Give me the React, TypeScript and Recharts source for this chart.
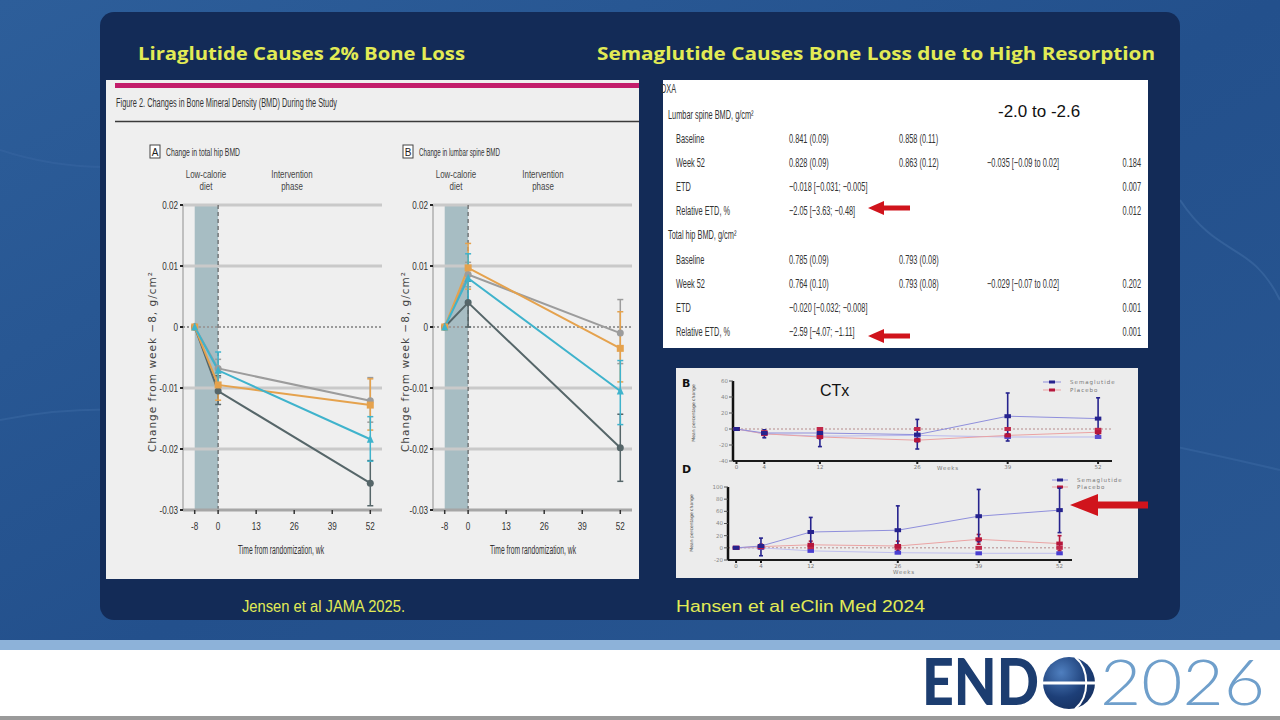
import React from 'react';
import { ComposedChart, Line, XAxis, YAxis, ReferenceLine, ReferenceArea, ErrorBar } from 'recharts';

// ---- Jensen et al (BMD change, g/cm2) ----
const bmdWeeks = [-8, 0, 52];
const bmdTicksX = [-8, 0, 13, 26, 39, 52];
const bmdTicksY = [-0.03, -0.02, -0.01, 0, 0.01, 0.02];

const hipDark = [0, -0.0105, -0.0256];
const hipGray = [0, -0.0068, -0.0121];
const hipOrange = [0, -0.0095, -0.0128];
const hipCyan = [0, -0.0071, -0.0184];
const hipDarkErr = [[0, 0], [0.0022, 0.0025], [0.0037, 0.0037]];
const hipGrayErr = [[0, 0], [0.0015, 0.0015], [0.0035, 0.0038]];
const hipOrangeErr = [[0, 0], [0.0025, 0.002], [0.0041, 0.0043]];
const hipCyanErr = [[0, 0], [0.0027, 0.003], [0.0036, 0.0037]];

const spineDark = [0, 0.004, -0.0198];
const spineGray = [0, 0.0086, -0.001];
const spineOrange = [0, 0.0097, -0.0035];
const spineCyan = [0, 0.008, -0.0105];
const spineDarkErr = [[0, 0], [0.004, 0.0035], [0.0055, 0.0055]];
const spineGrayErr = [[0, 0], [0.002, 0.002], [0.005, 0.0055]];
const spineOrangeErr = [[0, 0], [0.0035, 0.004], [0.0055, 0.006]];
const spineCyanErr = [[0, 0], [0.0037, 0.004], [0.0055, 0.005]];

// ---- Hansen et al (mean percentage change) ----
const pctWeeks = [0, 4, 12, 26, 39, 52];

const ctxSema = [0, -5, -5, -7, 16, 13];
const ctxSemaErr = [[0, 0], [6, 4], [17, 5], [18, 19], [31, 29], [23, 26]];
const ctxPlacebo = [0, -6, -10, -14, -8, -4];
const ctxPlaceboErr = [[0, 0], [2, 2], [2, 2], [2, 2], [2, 2], [2, 2]];
const ctxSema2 = [0, -6, -9, -8, -10, -10];
const ctxPlacebo2 = [0, -4, 0, 0, 0, -1];

const p1npSema = [0, 3, 26, 29, 52, 62];
const p1npSemaErr = [[0, 0], [16, 13], [21, 24], [38, 40], [42, 44], [37, 36]];
const p1npPlacebo = [0, 2, 5, 3, 14, 7];
const p1npPlaceboErr = [[0, 0], [4, 4], [8, 6], [8, 8], [8, 8], [12, 13]];
const p1npSema2 = [0, 0, -5, -8, -9, -9];
const p1npPlacebo2 = [0, 1, 1, 0, 0, 0];

// ---- table ----
const tableLabels = ['DXA', 'Lumbar spine BMD, g/cm²', 'Baseline', 'Week 52', 'ETD', 'Relative ETD, %', 'Total hip BMD, g/cm²', 'Baseline', 'Week 52', 'ETD', 'Relative ETD, %'];
const tableSema = ['', '', '0.841 (0.09)', '0.828 (0.09)', '−0.018 [−0.031; −0.005]', '−2.05 [−3.63; −0.48]', '', '0.785 (0.09)', '0.764 (0.10)', '−0.020 [−0.032; −0.008]', '−2.59 [−4.07; −1.11]'];
const tablePlacebo = ['', '', '0.858 (0.11)', '0.863 (0.12)', '', '', '', '0.793 (0.08)', '0.793 (0.08)', '', ''];
const tableDiff = ['', '', '', '−0.035 [−0.09 to 0.02]', '', '', '', '', '−0.029 [−0.07 to 0.02]', '', ''];
const tableP = ['', '', '', '0.184', '0.007', '0.012', '', '', '0.202', '0.001', '0.001'];
const tableIndent = [0, 0, 1, 1, 1, 1, 0, 1, 1, 1, 1];
const tableRowY = [88, 114, 138, 162, 186, 210, 234, 259, 283, 307, 331];

const SANS = '"Liberation Sans", Arial, sans-serif';
const YELLOW = '#e2eb55';

// condensed-looking text: regular sans squeezed horizontally
const NText = ({ x, y, sx = 0.7, size = 10.5, fill = '#333', anchor = 'start', children }: any) => (
  <text transform={`translate(${x},${y}) scale(${sx},1)`} fontFamily={SANS} fontSize={size} fill={fill} textAnchor={anchor}>
    {children}
  </text>
);

const narrowTick = (fmt: (v: number) => string, anchor: string, dy: number) => (props: any) => {
  const { x, y, payload, index } = props;
  return (
    <text key={`t-${index}`} transform={`translate(${x},${y + dy}) scale(0.74,1)`} fontFamily={SANS} fontSize={11} fill="#333" textAnchor={anchor}>
      {fmt(payload.value)}
    </text>
  );
};

const marker = (shape: string, color: string, size: number) => (props: any) => {
  const { cx, cy, index } = props;
  const k = `${shape}-${index}`;
  if (cx == null || cy == null) return <g key={k} />;
  if (shape === 'square') return <rect key={k} x={cx - size} y={cy - size} width={size * 2} height={size * 2} fill={color} />;
  if (shape === 'triangle')
    return <polygon key={k} points={`${cx},${cy - size - 1} ${cx - size},${cy + size} ${cx + size},${cy + size}`} fill={color} />;
  if (shape === 'bar') return <rect key={k} x={cx - size * 1.3} y={cy - size * 0.8} width={size * 2.6} height={size * 1.6} fill={color} />;
  return <circle key={k} cx={cx} cy={cy} r={size} fill={color} />;
};

type Series = { key: string; values: number[]; err?: number[][]; color: string; shape: string; mcolor?: string; size?: number };

const buildData = (xs: number[], series: Series[]) =>
  xs.map((w, i) => {
    const row: any = { week: w };
    series.forEach((s) => {
      row[s.key] = s.values[i];
      if (s.err) row[s.key + 'Err'] = s.err[i];
    });
    return row;
  });

const hipSeries: Series[] = [
  { key: 'gray', values: hipGray, err: hipGrayErr, color: '#9c9c9c', shape: 'circle' },
  { key: 'dark', values: hipDark, err: hipDarkErr, color: '#566669', shape: 'circle' },
  { key: 'orange', values: hipOrange, err: hipOrangeErr, color: '#e5a24d', shape: 'square' },
  { key: 'cyan', values: hipCyan, err: hipCyanErr, color: '#3fb3cc', shape: 'triangle' },
];
const spineSeries: Series[] = [
  { key: 'gray', values: spineGray, err: spineGrayErr, color: '#9c9c9c', shape: 'circle' },
  { key: 'dark', values: spineDark, err: spineDarkErr, color: '#566669', shape: 'circle' },
  { key: 'orange', values: spineOrange, err: spineOrangeErr, color: '#e5a24d', shape: 'square' },
  { key: 'cyan', values: spineCyan, err: spineCyanErr, color: '#3fb3cc', shape: 'triangle' },
];

const fmtY = (v: number) => (Math.abs(v) < 1e-9 ? '0' : v.toFixed(2));
const fmtX = (v: number) => String(v);

const BmdChart = ({ left, series }: { left: number; series: Series[] }) => {
  const data = buildData(bmdWeeks, series);
  return (
    <div style={{ position: 'absolute', left, top: 195, width: 260, height: 345 }}>
      <ComposedChart width={260} height={345} data={data} margin={{ top: 10, right: 8, left: 0, bottom: 0 }}>
        <XAxis
          type="number"
          dataKey="week"
          domain={[-12, 56]}
          ticks={bmdTicksX}
          allowDataOverflow
          axisLine={{ stroke: '#a6a6a6', strokeWidth: 3 }}
          tickLine={{ stroke: '#333', strokeWidth: 1.5 }}
          tickSize={4}
          height={30}
          tick={narrowTick(fmtX, 'middle', 14)}
        />
        <YAxis
          type="number"
          domain={[-0.03, 0.02]}
          ticks={bmdTicksY}
          allowDataOverflow
          width={53}
          axisLine={{ stroke: '#8f8f8f', strokeWidth: 1 }}
          tickLine={{ stroke: '#222', strokeWidth: 2 }}
          tickSize={3}
          tick={narrowTick(fmtY, 'end', 4)}
        />
        {[0.02, 0.01, -0.01, -0.02].map((y) => (
          <ReferenceLine key={y} y={y} stroke="#c9c9c9" strokeWidth={3} />
        ))}
        <ReferenceArea x1={-8} x2={0} y1={-0.03} y2={0.02} fill="#a7bdc3" fillOpacity={1} stroke="none" />
        <ReferenceLine y={0} stroke="#9a9a9a" strokeWidth={2} strokeDasharray="2 2" />
        <ReferenceLine x={0} stroke="#4a4a4a" strokeWidth={1} strokeDasharray="4 3" />
        {series.map((s) => (
          <Line
            key={s.key}
            type="linear"
            dataKey={s.key}
            stroke={s.color}
            strokeWidth={2}
            dot={marker(s.shape, s.color, 3.5)}
            isAnimationActive={false}
          >
            <ErrorBar dataKey={s.key + 'Err'} width={3} stroke={s.color} strokeWidth={1.5} direction="y" />
          </Line>
        ))}
      </ComposedChart>
    </div>
  );
};

const ctxSeries: Series[] = [
  { key: 'sema2', values: ctxSema2, color: '#b9b9ee', shape: 'bar', mcolor: '#5a4fd0', size: 2.5 },
  { key: 'placebo2', values: ctxPlacebo2, color: 'transparent', shape: 'bar', mcolor: '#c0284a', size: 2.5 },
  { key: 'placebo', values: ctxPlacebo, err: ctxPlaceboErr, color: '#eba3a3', shape: 'bar', mcolor: '#b5163c', size: 2.5 },
  { key: 'sema', values: ctxSema, err: ctxSemaErr, color: '#8f8fdc', shape: 'bar', mcolor: '#26238e', size: 2.5 },
];
const p1npSeries: Series[] = [
  { key: 'sema2', values: p1npSema2, color: '#c0c0ef', shape: 'bar', mcolor: '#4a3fd0', size: 2.5 },
  { key: 'placebo2', values: p1npPlacebo2, color: 'transparent', shape: 'bar', mcolor: '#c0284a', size: 2.5 },
  { key: 'placebo', values: p1npPlacebo, err: p1npPlaceboErr, color: '#eba3a3', shape: 'bar', mcolor: '#b5163c', size: 2.5 },
  { key: 'sema', values: p1npSema, err: p1npSemaErr, color: '#8f8fdc', shape: 'bar', mcolor: '#26238e', size: 2.5 },
];

const PctChart = (p: { left: number; top: number; width: number; height: number; xDomain: number[]; yDomain: number[]; yTicks: number[]; series: Series[] }) => {
  const data = buildData(pctWeeks, p.series);
  return (
    <div style={{ position: 'absolute', left: p.left, top: p.top, width: p.width, height: p.height }}>
      <ComposedChart width={p.width} height={p.height} data={data} margin={{ top: 10, right: 8, left: 0, bottom: 0 }}>
        <XAxis
          type="number"
          dataKey="week"
          domain={p.xDomain}
          ticks={pctWeeks}
          allowDataOverflow
          axisLine={{ stroke: '#1a1a1a', strokeWidth: 2 }}
          tickLine={{ stroke: '#1a1a1a', strokeWidth: 2 }}
          tickSize={3}
          tickMargin={1}
          height={12}
          tick={{ fontSize: 5.5, fill: '#777', fontFamily: 'DejaVu Sans' }}
        />
        <YAxis
          type="number"
          domain={p.yDomain}
          ticks={p.yTicks}
          allowDataOverflow
          width={33}
          axisLine={{ stroke: '#111', strokeWidth: 2.5 }}
          tickLine={{ stroke: '#555', strokeWidth: 1 }}
          tickSize={4}
          tickMargin={1}
          tick={{ fontSize: 5.5, fill: '#888', fontFamily: 'DejaVu Sans' }}
        />
        <ReferenceLine y={0} stroke="#b58a8a" strokeWidth={1} strokeDasharray="2 2" />
        {p.series.map((s) => (
          <Line
            key={s.key}
            type="linear"
            dataKey={s.key}
            stroke={s.color}
            strokeWidth={1}
            dot={marker(s.shape, s.mcolor || s.color, s.size || 2.5)}
            isAnimationActive={false}
          >
            {s.err ? <ErrorBar dataKey={s.key + 'Err'} width={2} stroke={s.mcolor} strokeWidth={1.6} direction="y" /> : null}
          </Line>
        ))}
      </ComposedChart>
    </div>
  );
};

const Arrow = ({ x, y, len, head, hh, sh }: { x: number; y: number; len: number; head: number; hh: number; sh: number }) => (
  <polygon
    points={`${x},${y} ${x + head},${y - hh} ${x + head},${y - sh} ${x + len},${y - sh} ${x + len},${y + sh} ${x + head},${y + sh} ${x + head},${y + hh}`}
    fill="#d0141c"
  />
);

const App: React.FC = () => {
  return (
    <div style={{ position: 'absolute', left: 0, top: 0, width: 1280, height: 720, overflow: 'hidden', fontFamily: SANS }}>
      <svg width={1280} height={720} style={{ position: 'absolute', left: 0, top: 0 }}>
        <defs>
          <linearGradient id="bg" x1="0" y1="0" x2="1" y2="1">
            <stop offset="0" stopColor="#2d5e9a" />
            <stop offset="0.5" stopColor="#23508c" />
            <stop offset="1" stopColor="#2a5893" />
          </linearGradient>
          <radialGradient id="globe" cx="0.35" cy="0.3" r="0.8">
            <stop offset="0" stopColor="#4f7fbf" />
            <stop offset="0.6" stopColor="#1d3f78" />
            <stop offset="1" stopColor="#152f5e" />
          </radialGradient>
        </defs>
        <rect x={0} y={0} width={1280} height={720} fill="url(#bg)" />
        <path d="M0,420 C200,380 300,470 520,430 S900,380 1280,470" stroke="#3c6aa4" strokeWidth={2} fill="none" opacity={0.5} />
        <path d="M0,150 C150,200 250,120 420,160" stroke="#3c6aa4" strokeWidth={2} fill="none" opacity={0.4} />
        <path d="M1180,200 C1220,260 1250,240 1280,300" stroke="#4a78b0" strokeWidth={2} fill="none" opacity={0.4} />
        <rect x={100} y={12} width={1080} height={608} rx={14} fill="#132b57" />

        {/* bottom band */}
        <rect x={0} y={650} width={1280} height={70} fill="#ffffff" />
        <rect x={0} y={640} width={1280} height={10} fill="#8db2d9" />
        <rect x={0} y={716} width={1280} height={4} fill="#9a9a9a" />

        {/* titles */}
        <text x={138} y={60} fontFamily="Open Sans" fontWeight={700} fontSize={18.5} fill={YELLOW} textLength={327} lengthAdjust="spacingAndGlyphs">
          Liraglutide Causes 2% Bone Loss
        </text>
        <text x={597} y={60} fontFamily="Open Sans" fontWeight={700} fontSize={18.5} fill={YELLOW} textLength={558} lengthAdjust="spacingAndGlyphs">
          Semaglutide Causes Bone Loss due to High Resorption
        </text>
        <text x={242} y={612} fontFamily={SANS} fontSize={16} fill={YELLOW} textLength={163} lengthAdjust="spacingAndGlyphs">
          Jensen et al JAMA 2025.
        </text>
        <text x={676} y={612} fontFamily={SANS} fontSize={16} fill={YELLOW} textLength={249} lengthAdjust="spacingAndGlyphs">
          Hansen et al eClin Med 2024
        </text>

        {/* left figure panel */}
        <rect x={106} y={80} width={533} height={499} fill="#efefef" />
        <rect x={115} y={83} width={524} height={5} fill="#c31d6b" />
        <text x={116} y={107} fontFamily={SANS} fontSize={12.5} fill="#333" textLength={221} lengthAdjust="spacingAndGlyphs">
          Figure 2. Changes in Bone Mineral Density (BMD) During the Study
        </text>
        <line x1={115} y1={121.5} x2={639} y2={121.5} stroke="#3a3a3a" strokeWidth={1.5} />

        <rect x={150} y={145} width={10} height={13} fill="#fff" stroke="#444" strokeWidth={1} />
        <text x={155} y={155.5} textAnchor="middle" fontFamily={SANS} fontSize={10} fill="#222">A</text>
        <text x={166} y={155.5} fontFamily={SANS} fontSize={11.5} fill="#333" textLength={74} lengthAdjust="spacingAndGlyphs">Change in total hip BMD</text>
        <rect x={403} y={145} width={10} height={13} fill="#fff" stroke="#444" strokeWidth={1} />
        <text x={408} y={155.5} textAnchor="middle" fontFamily={SANS} fontSize={10} fill="#222">B</text>
        <text x={419} y={155.5} fontFamily={SANS} fontSize={11.5} fill="#333" textLength={81} lengthAdjust="spacingAndGlyphs">Change in lumbar spine BMD</text>

        {[206, 456].map((cx) => (
          <g key={cx}>
            <NText x={cx} y={178} sx={0.72} size={11} fill="#444" anchor="middle">Low-calorie</NText>
            <NText x={cx} y={190} sx={0.72} size={11} fill="#444" anchor="middle">diet</NText>
          </g>
        ))}
        {[292, 543].map((cx) => (
          <g key={cx}>
            <NText x={cx} y={178} sx={0.72} size={11} fill="#444" anchor="middle">Intervention</NText>
            <NText x={cx} y={190} sx={0.72} size={11} fill="#444" anchor="middle">phase</NText>
          </g>
        ))}
        {[156, 409].map((cx) => (
          <text key={cx} transform={`translate(${cx},362) rotate(-90)`} textAnchor="middle" fontFamily="DejaVu Sans" fontSize={10.5} fill="#444" textLength={180} lengthAdjust="spacing">
            Change from week −8, g/cm²
          </text>
        ))}
        {[281, 533].map((cx) => (
          <text key={cx} x={cx} y={554} textAnchor="middle" fontFamily={SANS} fontSize={12} fill="#333" textLength={86} lengthAdjust="spacingAndGlyphs">
            Time from randomization, wk
          </text>
        ))}

        {/* table */}
        <rect x={663} y={80} width={485} height={268} fill="#ffffff" />
        {tableLabels.map((t, i) => (
          <NText key={'l' + i} x={i === 0 ? 661 : tableIndent[i] ? 676 : 668} y={tableRowY[i] + 4.5} sx={0.59} size={12.5}>{t}</NText>
        ))}
        {tableSema.map((t, i) => (t ? <NText key={'s' + i} x={789} y={tableRowY[i] + 4.5} sx={0.59} size={12.5}>{t}</NText> : null))}
        {tablePlacebo.map((t, i) => (t ? <NText key={'p' + i} x={899} y={tableRowY[i] + 4.5} sx={0.59} size={12.5}>{t}</NText> : null))}
        {tableDiff.map((t, i) => (t ? <NText key={'d' + i} x={987} y={tableRowY[i] + 4.5} sx={0.59} size={12.5}>{t}</NText> : null))}
        {tableP.map((t, i) => (t ? <NText key={'q' + i} x={1141} y={tableRowY[i] + 4.5} sx={0.59} size={12.5} anchor="end">{t}</NText> : null))}
        <text x={998} y={117} fontFamily={SANS} fontSize={17} fill="#111">-2.0 to -2.6</text>
        <Arrow x={868} y={208} len={42} head={16} hh={7} sh={2.6} />
        <Arrow x={868} y={336} len={42} head={16} hh={7} sh={2.6} />

        {/* bone turnover panel */}
        <rect x={676} y={368} width={462} height={210} fill="#ececec" />
        <text x={682} y={387} fontFamily="DejaVu Sans" fontWeight={700} fontSize={11} fill="#111">B</text>
        <text x={682} y={473} fontFamily="DejaVu Sans" fontWeight={700} fontSize={11} fill="#111">D</text>
        <text x={820} y={396} fontFamily={SANS} fontSize={16} fill="#111">CTx</text>
        <text transform="translate(695,413) rotate(-90)" textAnchor="middle" fontFamily="DejaVu Sans" fontSize={4.5} fill="#444">Mean percentage change</text>
        <text transform="translate(693,523) rotate(-90)" textAnchor="middle" fontFamily="DejaVu Sans" fontSize={4.5} fill="#444">Mean percentage change</text>
        <text x={948} y={470} textAnchor="middle" fontFamily="DejaVu Sans" fontSize={5.5} fill="#777" letterSpacing={0.8}>Weeks</text>
        <text x={904} y={574} textAnchor="middle" fontFamily="DejaVu Sans" fontSize={5.5} fill="#777" letterSpacing={0.8}>Weeks</text>

        {/* legends */}
        <g fontFamily="DejaVu Sans" fontSize={5.5} fill="#777" letterSpacing={1}>
          <line x1={1043} y1={382} x2={1061} y2={382} stroke="#8f8fdc" />
          <rect x={1049} y={380.5} width={6} height={3} fill="#26238e" />
          <text x={1070} y={384}>Semaglutide</text>
          <line x1={1043} y1={390} x2={1061} y2={390} stroke="#eba3a3" />
          <rect x={1049} y={388.5} width={6} height={3} fill="#b5163c" />
          <text x={1070} y={392}>Placebo</text>
          <line x1={1052} y1={480} x2={1068} y2={480} stroke="#8f8fdc" />
          <rect x={1057} y={478.5} width={6} height={3} fill="#26238e" />
          <text x={1077} y={482}>Semaglutide</text>
          <line x1={1052} y1={487} x2={1068} y2={487} stroke="#eba3a3" />
          <rect x={1057} y={485.5} width={6} height={3} fill="#b5163c" />
          <text x={1077} y={489}>Placebo</text>
        </g>
        <Arrow x={1070} y={505} len={78} head={28} hh={11} sh={3.5} />

        {/* logo */}
        <text x={922} y={705} fontFamily="Lato" fontWeight={900} fontSize={64} fill="#1c3d70" textLength={117} lengthAdjust="spacingAndGlyphs">END</text>
        <circle cx={1069} cy={683} r={26} fill="url(#globe)" />
        <path d="M1043,683 L1095,683" stroke="#ffffff" strokeWidth={3} />
        <path d="M1075,657 C1090,669 1090,697 1075,709" stroke="#ffffff" strokeWidth={2} fill="none" />
        <text x={1100} y={705} fontFamily="Lato" fontWeight={300} fontSize={64} fill="#6f9fcb" textLength={165} lengthAdjust="spacingAndGlyphs">2026</text>
      </svg>

      <BmdChart left={130} series={hipSeries} />
      <BmdChart left={380} series={spineSeries} />

      <PctChart left={700} top={371} width={420} height={102} xDomain={[-0.5, 54]} yDomain={[-40, 60]} yTicks={[-40, -20, 0, 20, 40, 60]} series={ctxSeries} />
      <PctChart left={695} top={477} width={385} height={95} xDomain={[-1.3, 54]} yDomain={[-20, 100]} yTicks={[-20, 0, 20, 40, 60, 80, 100]} series={p1npSeries} />
    </div>
  );
};

export default App;
